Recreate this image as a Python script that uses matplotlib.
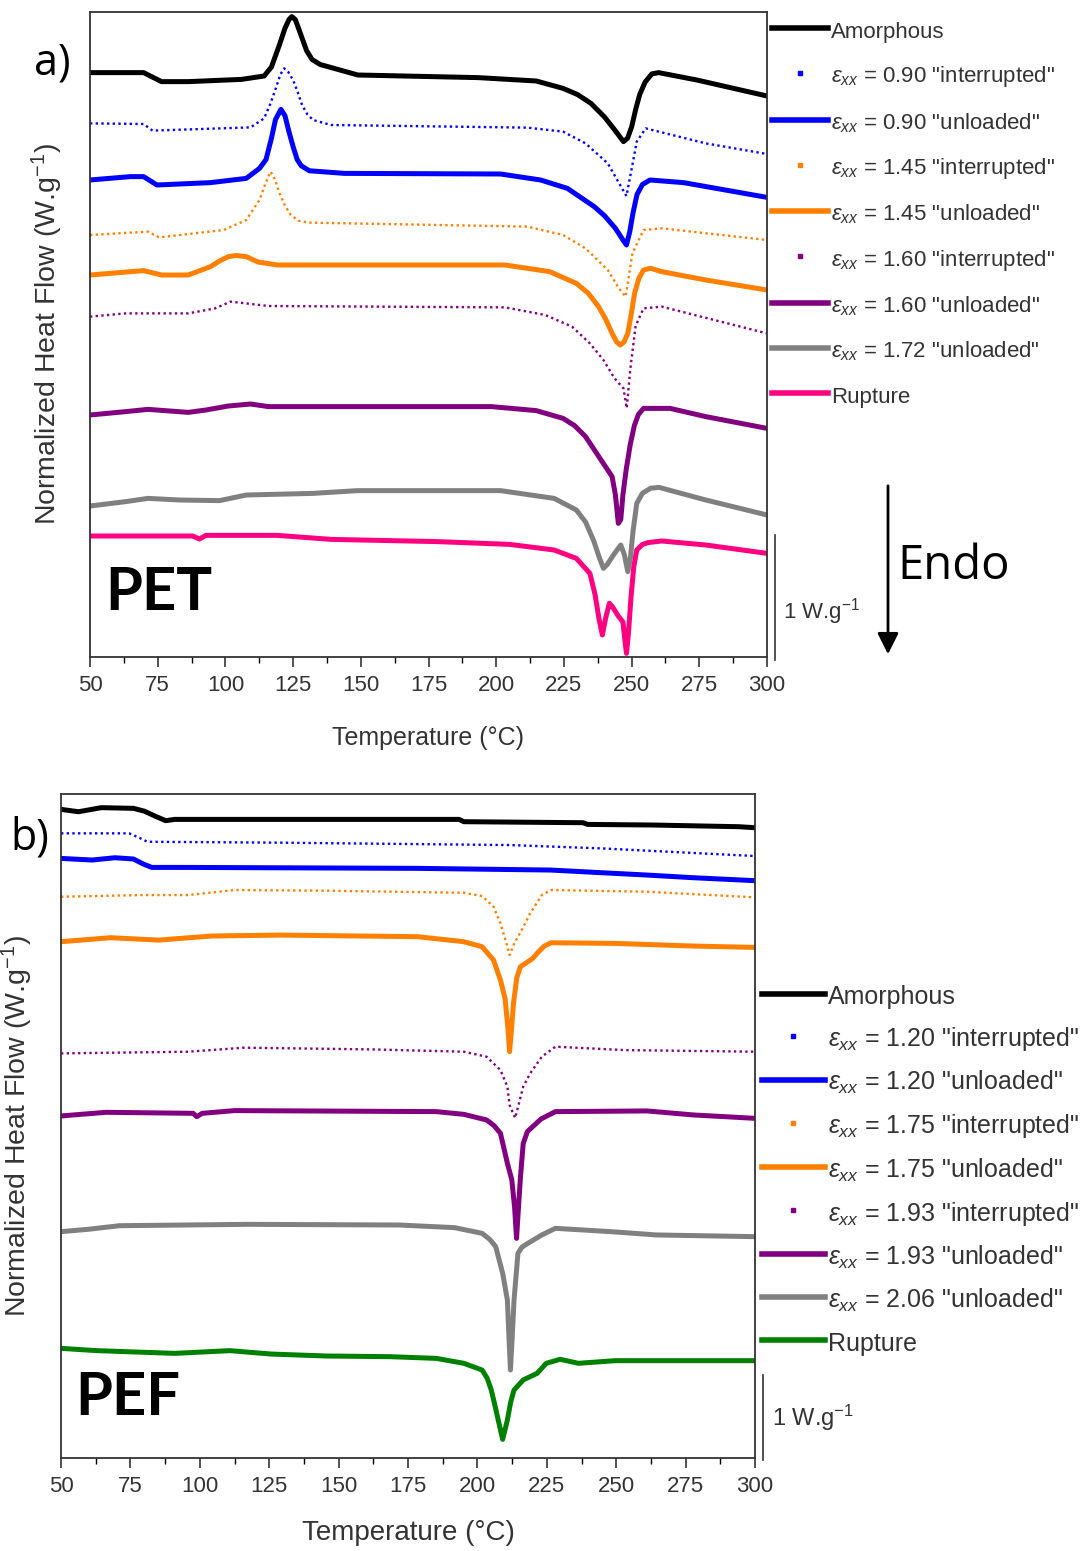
import matplotlib
matplotlib.use("Agg")
import matplotlib.pyplot as plt
from matplotlib.lines import Line2D
from matplotlib.patches import FancyArrowPatch

plt.rcParams['font.family'] = ['Liberation Sans', 'DejaVu Sans']
plt.rcParams['mathtext.fontset'] = 'custom'
plt.rcParams['mathtext.rm'] = 'Liberation Sans'
plt.rcParams['mathtext.it'] = 'Liberation Sans:italic'

# ---------------- PET (a) : temperature (C), normalized heat flow (W/g, offset) ----------------
pet_amorph_T = [50, 69.8, 76.4, 86.3, 106, 114.3, 117, 120, 122, 123.5, 124.5, 125.8, 127, 128.5, 130, 132,
                135, 148.9, 193.4, 214.8, 224.7, 230, 235, 240, 244, 247, 248.5, 250, 251.5, 253, 255,
                257.5, 260, 274.1, 300]
pet_amorph_W = [4.675, 4.675, 4.603, 4.603, 4.621, 4.648, 4.72, 4.90, 5.03, 5.10, 5.123, 5.10, 5.03, 4.94, 4.85,
                4.78, 4.74, 4.656, 4.635, 4.608, 4.549, 4.50, 4.429, 4.32, 4.21, 4.123, 4.15, 4.24, 4.38, 4.50,
                4.60, 4.665, 4.675, 4.616, 4.488]

pet_090i_T = [50, 69.8, 73.1, 109.3, 114.3, 116.5, 118.4, 120.3, 121.7, 123.2, 125, 126.7, 128.3, 130.3, 132.4,
              139, 211.5, 224.7, 233, 241.2, 246.1, 248.1, 250.4, 251.9, 255.2, 277.4, 300]
pet_090i_W = [4.269, 4.264, 4.211, 4.237, 4.309, 4.42, 4.536, 4.66, 4.709, 4.68, 4.616, 4.52, 4.416, 4.34, 4.296,
              4.256, 4.235, 4.203, 4.109, 3.949, 3.763, 3.688, 3.949, 4.123, 4.229, 4.109, 4.024]

pet_090u_T = [50, 64.8, 69.8, 74.7, 94.5, 107.7, 112.6, 115, 117, 118.5, 120.5, 122, 123.5, 125, 126.5, 128,
              131, 143.9, 201.6, 216.4, 226.3, 236.2, 240, 244, 247, 248.1, 249.3, 250.5, 252, 254, 256.8,
              269.2, 300]
pet_090u_W = [3.816, 3.843, 3.843, 3.776, 3.795, 3.829, 3.909, 3.98, 4.15, 4.30, 4.381, 4.33, 4.20, 4.083, 3.98,
              3.93, 3.89, 3.869, 3.864, 3.816, 3.749, 3.603, 3.53, 3.43, 3.33, 3.296, 3.40, 3.55, 3.70, 3.78,
              3.816, 3.795, 3.677]

pet_145i_T = [50, 71.4, 75.5, 99.4, 107.7, 112.6, 115, 116.7, 118.3, 120, 122, 124.2, 127, 130.8, 211.5,
              224.7, 233, 241.2, 245.3, 247.8, 250.3, 254.4, 261.1, 300]
pet_145i_W = [3.376, 3.403, 3.357, 3.416, 3.496, 3.656, 3.80, 3.883, 3.82, 3.709, 3.61, 3.536, 3.49, 3.475, 3.443,
              3.376, 3.269, 3.096, 2.949, 2.883, 3.229, 3.416, 3.429, 3.336]

pet_145u_T = [50, 69.8, 76.4, 86.3, 94.5, 98, 101.1, 104, 107.7, 112, 119.2, 203.3, 219.7, 229.6, 234,
              237.8, 240.5, 242.8, 244.5, 245.8, 247.2, 248.6, 250, 251.1, 252.7, 254.4, 257, 261.1, 277.4, 300]
pet_145u_W = [3.056, 3.091, 3.056, 3.056, 3.123, 3.17, 3.203, 3.212, 3.203, 3.16, 3.136, 3.136, 3.083, 2.989,
              2.91, 2.803, 2.70, 2.589, 2.52, 2.496, 2.52, 2.589, 2.76, 2.909, 3.03, 3.096, 3.11, 3.083, 3.016,
              2.936]

pet_160i_T = [50, 63.2, 86.3, 96.2, 101.9, 115.9, 203.3, 218.1, 228, 234.6, 239.6, 243.7, 247, 248.2,
              249.5, 251.5, 254.4, 261.1, 300]
pet_160i_W = [2.723, 2.749, 2.749, 2.789, 2.843, 2.808, 2.797, 2.736, 2.643, 2.509, 2.376, 2.229, 2.149, 1.99,
              2.30, 2.65, 2.789, 2.803, 2.589]

pet_160u_T = [50, 63.2, 71.4, 86.3, 92.8, 101.1, 109.3, 115.9, 198.3, 214.8, 224.7, 229, 233, 237.9, 242.8,
              244, 245.1, 246, 246.8, 248, 249.5, 251, 252.5, 254.4, 264.2, 277.4, 300]
pet_160u_W = [1.936, 1.963, 1.981, 1.957, 1.976, 2.008, 2.024, 2.003, 2.003, 1.971, 1.909, 1.85, 1.763, 1.603,
              1.443, 1.30, 1.069, 1.10, 1.30, 1.50, 1.70, 1.85, 1.94, 1.989, 1.989, 1.923, 1.829]

pet_172u_T = [50, 63.2, 71.4, 83, 97.8, 107.7, 132.4, 148.9, 201.6, 221.4, 229.6, 233, 236, 238, 239.6, 241,
              243.7, 246, 247.3, 248.6, 249.6, 250.5, 251.9, 254, 257, 260.1, 277.4, 300]
pet_172u_W = [1.208, 1.243, 1.269, 1.256, 1.251, 1.296, 1.309, 1.331, 1.331, 1.269, 1.176, 1.08, 0.93, 0.80,
              0.709, 0.74, 0.829, 0.896, 0.82, 0.683, 0.80, 1.0, 1.229, 1.31, 1.35, 1.357, 1.256, 1.136]

pet_rupt_T = [50, 87.9, 90.4, 92.8, 119.2, 139, 178.5, 204.9, 221.4, 229.6, 234.6, 236.5, 238, 239.2, 240.5,
              241.8, 243, 245, 246.8, 247.6, 248.1, 248.8, 249.8, 250.8, 251.9, 254, 256, 261.1, 277.4, 300]
pet_rupt_W = [0.968, 0.968, 0.944, 0.973, 0.973, 0.941, 0.923, 0.901, 0.856, 0.789, 0.669, 0.50, 0.30, 0.176,
              0.32, 0.43, 0.40, 0.33, 0.28, 0.12, 0.029, 0.18, 0.483, 0.72, 0.856, 0.90, 0.915, 0.928, 0.896,
              0.829]

pet_labels = ['Amorphous',
              r'$\varepsilon_{xx}$ = 0.90 "interrupted"', r'$\varepsilon_{xx}$ = 0.90 "unloaded"',
              r'$\varepsilon_{xx}$ = 1.45 "interrupted"', r'$\varepsilon_{xx}$ = 1.45 "unloaded"',
              r'$\varepsilon_{xx}$ = 1.60 "interrupted"', r'$\varepsilon_{xx}$ = 1.60 "unloaded"',
              r'$\varepsilon_{xx}$ = 1.72 "unloaded"', 'Rupture']

# ---------------- PEF (b) ----------------
pef_amorph_T = [50, 56.3, 64.5, 76.1, 80, 84, 87.7, 91, 193.4, 195.1, 238, 239.7, 262.8, 294.2, 300]
pef_amorph_W = [7.631, 7.603, 7.651, 7.643, 7.61, 7.55, 7.498, 7.513, 7.513, 7.486, 7.474, 7.454, 7.447, 7.427,
                7.415]

pef_120i_T = [50, 74.5, 78, 81.1, 129, 211.6, 244.6, 300]
pef_120i_W = [7.349, 7.349, 7.30, 7.250, 7.239, 7.211, 7.172, 7.082]

pef_120u_T = [50, 61.2, 69.5, 76.1, 79.5, 82.7, 95.9, 178.5, 226.5, 244.6, 261.2, 277.7, 300]
pef_120u_W = [7.054, 7.035, 7.062, 7.047, 6.99, 6.948, 6.948, 6.937, 6.917, 6.886, 6.858, 6.827, 6.792]

pef_175i_T = [50, 79.4, 95.9, 112.5, 145.5, 195.1, 201.7, 205.8, 208.3, 210.3, 211.6, 213.3, 216.6, 219,
              223.2, 226.5, 261.2, 300]
pef_175i_W = [6.603, 6.623, 6.623, 6.682, 6.674, 6.650, 6.611, 6.486, 6.290, 6.074, 5.917, 6.054, 6.250, 6.407,
              6.623, 6.682, 6.662, 6.596]

pef_175u_T = [50, 67.8, 85.2, 104.2, 129, 178.5, 195.1, 201.7, 205.8, 208.3, 210, 211, 211.6, 212.3, 213,
              214.2, 215.5, 218.2, 220, 221.5, 224, 226.5, 249.6, 277.7, 300]
pef_175u_W = [6.074, 6.121, 6.093, 6.141, 6.152, 6.133, 6.074, 6.015, 5.858, 5.623, 5.40, 5.05, 4.780, 5.05, 5.35,
              5.65, 5.78, 5.839, 5.88, 5.937, 6.02, 6.062, 6.054, 6.023, 6.007]

pef_193i_T = [50, 95.9, 115.8, 162, 195.1, 203.3, 208.3, 210.8, 211.6, 213.6, 216.5, 219, 223.2, 228.1,
              252.9, 300]
pef_193i_W = [4.760, 4.780, 4.827, 4.807, 4.780, 4.721, 4.564, 4.368, 4.152, 4.000, 4.368, 4.525, 4.721, 4.839,
              4.799, 4.780]

pef_193u_T = [50, 66.2, 97.6, 98.9, 100.9, 112.5, 185.2, 195.1, 203.3, 206, 208.3, 210.8, 212.4, 213.4, 214.1,
              214.8, 215.5, 216.5, 218, 219.9, 223, 228.1, 261.2, 277.7, 300]
pef_193u_W = [4.024, 4.067, 4.055, 4.016, 4.055, 4.087, 4.075, 4.043, 3.977, 3.91, 3.820, 3.467, 3.271, 2.95,
              2.584, 2.95, 3.30, 3.70, 3.84, 3.898, 3.99, 4.075, 4.083, 4.036, 3.996]

pef_206u_T = [50, 59.6, 71.1, 117.4, 171.9, 191.8, 201.7, 204.5, 206.6, 209.1, 210.8, 211.4, 211.9, 212.5,
              213.2, 214.6, 216, 218.2, 223.2, 228.1, 248, 264.5, 300]
pef_206u_W = [2.663, 2.690, 2.733, 2.749, 2.741, 2.710, 2.643, 2.57, 2.486, 2.173, 1.859, 1.40, 1.035, 1.40, 1.859,
              2.408, 2.48, 2.526, 2.624, 2.702, 2.663, 2.624, 2.604]

pef_rupt_T = [50, 62.9, 91, 110.8, 125.7, 145.5, 168.6, 185.2, 195.1, 201.7, 203.5, 205, 206.3, 207.5, 209.1,
              210.8, 212, 213.2, 216.5, 221.5, 224.8, 229.8, 236.4, 249.6, 300]
pef_rupt_W = [1.290, 1.263, 1.231, 1.263, 1.223, 1.200, 1.192, 1.172, 1.114, 1.035, 0.94, 0.800, 0.62, 0.447,
              0.219, 0.447, 0.66, 0.800, 0.918, 0.996, 1.114, 1.161, 1.114, 1.145, 1.145]

pef_labels = ['Amorphous',
              r'$\varepsilon_{xx}$ = 1.20 "interrupted"', r'$\varepsilon_{xx}$ = 1.20 "unloaded"',
              r'$\varepsilon_{xx}$ = 1.75 "interrupted"', r'$\varepsilon_{xx}$ = 1.75 "unloaded"',
              r'$\varepsilon_{xx}$ = 1.93 "interrupted"', r'$\varepsilon_{xx}$ = 1.93 "unloaded"',
              r'$\varepsilon_{xx}$ = 2.06 "unloaded"', 'Rupture']

xticks = [50, 75, 100, 125, 150, 175, 200, 225, 250, 275, 300]

pet_series = [(pet_amorph_T, pet_amorph_W), (pet_090i_T, pet_090i_W), (pet_090u_T, pet_090u_W),
              (pet_145i_T, pet_145i_W), (pet_145u_T, pet_145u_W), (pet_160i_T, pet_160i_W),
              (pet_160u_T, pet_160u_W), (pet_172u_T, pet_172u_W), (pet_rupt_T, pet_rupt_W)]
pef_series = [(pef_amorph_T, pef_amorph_W), (pef_120i_T, pef_120i_W), (pef_120u_T, pef_120u_W),
              (pef_175i_T, pef_175i_W), (pef_175u_T, pef_175u_W), (pef_193i_T, pef_193i_W),
              (pef_193u_T, pef_193u_W), (pef_206u_T, pef_206u_W), (pef_rupt_T, pef_rupt_W)]
pet_colors = ['#000000', '#0000ff', '#0000ff', '#ff8000', '#ff8000', '#800080', '#800080', '#808080', '#ff0080']
pef_colors = ['#000000', '#0000ff', '#0000ff', '#ff8000', '#ff8000', '#800080', '#800080', '#808080', '#008000']
dotted = [False, True, False, True, False, True, False, False, False]

W, H = 1086, 1551
fig = plt.figure(figsize=(W / 100, H / 100), dpi=100)
ax1 = fig.add_axes([90 / W, 1 - 657 / H, 677 / W, 645 / H])
ax2 = fig.add_axes([61 / W, 1 - 1458 / H, 694 / W, 664 / H])


def draw(ax, series, colors, labels, ylim, leg_anchor, leg_fs, leg_spacing, tick_fs, xlab_fs):
    handles = []
    for (T, Wv), c, d, lab in zip(series, colors, dotted, labels):
        if d:
            ax.plot(T, Wv, color=c, lw=1.7, linestyle=(0, (1, 1.4)))
            handles.append(Line2D([], [], color=c, marker='s', markersize=2.2, linestyle='none', label=lab))
        else:
            ax.plot(T, Wv, color=c, lw=3.6, solid_joinstyle='round')
            handles.append(Line2D([], [], color=c, lw=4, label=lab))
    ax.set_xlim(50, 300)
    ax.set_ylim(*ylim)
    ax.set_xticks(xticks)
    ax.set_xticks([t + 12.5 for t in xticks[:-1]], minor=True)
    ax.set_yticks([])
    ax.tick_params(axis='x', which='major', direction='out', length=7, width=1.2, labelsize=tick_fs, pad=6,
                   colors='#333333', labelcolor='#333333')
    ax.tick_params(axis='x', which='minor', direction='out', length=4, width=1.0)
    for s in ax.spines.values():
        s.set_linewidth(1.3)
        s.set_color('#333333')
    ax.set_xlabel('Temperature (°C)', fontsize=xlab_fs, color='#333333')
    ax.set_ylabel('Normalized Heat Flow (W.g$^{-1}$)', fontsize=20.5, color='#333333')
    leg = fig.legend(handles=handles, loc='upper left', bbox_to_anchor=leg_anchor, frameon=False,
                     fontsize=leg_fs, handlelength=2.5, handletextpad=0.15, handleheight=1.2,
                     labelspacing=leg_spacing, borderpad=0, borderaxespad=0)
    for t in leg.get_texts():
        t.set_color('#333333')
    # 1 W/g scale bar
    ax.plot([1.012, 1.012], [-0.02, 0.98], color='#333333', lw=1.2, clip_on=False,
            transform=ax.get_yaxis_transform())
    return leg


draw(ax1, pet_series, pet_colors, pet_labels, (0, 645 / 125), (772 / W, 1 - 19 / H), 16, 0.93, 16, 18)
draw(ax2, pef_series, pef_colors, pef_labels, (0, 664 / 85), (762 / W, 1 - 983 / H), 18, 0.63, 16, 20)

ax1.yaxis.set_label_coords(-0.037, 0.5)
ax2.yaxis.set_label_coords(-0.037, 0.5)
ax1.xaxis.set_label_coords(0.5, -0.107)
ax2.xaxis.set_label_coords(0.5, -0.093)

ax1.text(1.024, 0.07, '1 W.g$^{-1}$', transform=ax1.transAxes, fontsize=16, color='#333333', va='center')
ax2.text(1.024, 0.06, '1 W.g$^{-1}$', transform=ax2.transAxes, fontsize=17, color='#333333', va='center')

ax1.text(0.022, 0.1, 'PET', transform=ax1.transAxes, fontsize=43, fontweight='bold',
         family=['Lato', 'DejaVu Sans'], va='center')
ax2.text(0.02, 0.09, 'PEF', transform=ax2.transAxes, fontsize=43, fontweight='bold',
         family=['Lato', 'DejaVu Sans'], va='center')

fig.text(52 / W, 1 - 63 / H, 'a)', fontsize=31, ha='center', va='center', family=['Open Sans', 'DejaVu Sans'])
fig.text(30 / W, 1 - 838 / H, 'b)', fontsize=31, ha='center', va='center', family=['Open Sans', 'DejaVu Sans'])

fig.add_artist(FancyArrowPatch((888 / W, 1 - 483 / H), (888 / W, 1 - 657 / H), transform=fig.transFigure,
                               arrowstyle='-|>', mutation_scale=32, lw=2, color='black'))
fig.text(897 / W, 1 - 566 / H, 'Endo', fontsize=34, va='center', family=['Open Sans', 'DejaVu Sans'])

fig.savefig('out.png', dpi=100)
